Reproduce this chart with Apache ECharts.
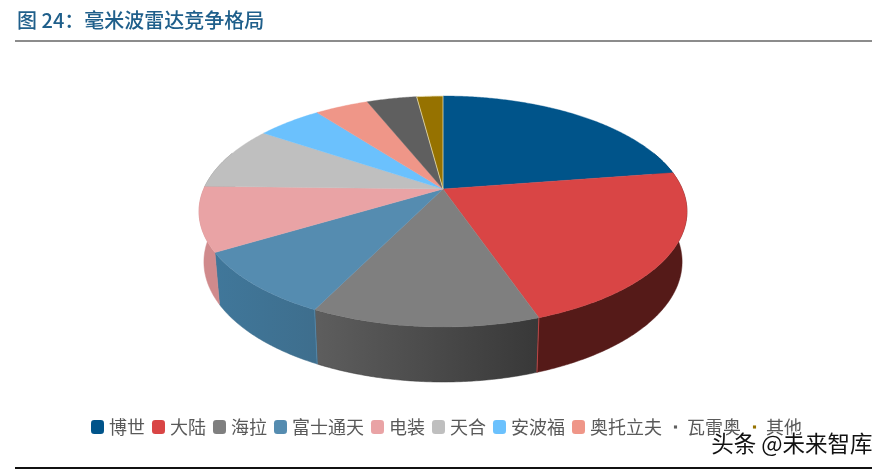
<!DOCTYPE html>
<html><head><meta charset="utf-8">
<style>html,body{margin:0;padding:0;background:#fff}#c{width:886px;height:472px}</style>
<script src="https://cdn.jsdelivr.net/npm/echarts@6/dist/echarts.min.js"></script>
</head><body><div id="c"></div>
<script>
const categories = ['博世','大陆','海拉','富士通天','电装','天合','安波福','奥托立夫','瓦雷奥','其他'];
const shares = [22.6,22.1,12.6,9.1,9.0,9.0,5.2,4.3,4.0,2.1];
const topColors = ['#00548a','#d94545','#7f7f7f','#558cb0','#e9a3a5','#bfbfbf','#6bc1fd','#ef9688','#5f5f5f','#967200'];
const sideStart = ['#003a60','#551a18','#5e5e5e','#40779a','#d08a8c','#8a8a8a','#4a88b2','#a86a60','#434343','#6a5000'];
const sideEnd   = ['#003a60','#551a18','#383838','#3e6e8d','#d08a8c','#8a8a8a','#4a88b2','#a86a60','#434343','#6a5000'];

const total = shares.reduce((s,v)=>s+v,0);
const cx=443, cy=189, k=-0.1948, B=111.1, A=239.3;
function rim(a){ const t=(a-90)*Math.PI/180, u=Math.sin(t), c=Math.cos(t), d=1+k*u;
  return [A*c/d, B*u/d]; }
function topPt(a){ const p=rim(a); return [cx+p[0], cy+p[1]]; }
function botPt(a){ const p=rim(a); return [cx+0.98*p[0], cy+1.04*p[1]+49.5]; }

function makeRender(i){
  return function(params, api){
    const before = shares.slice(0,i).reduce((s,v)=>s+v,0);
    const a0 = before/total*360, a1 = a0 + api.value(0)/total*360;
    const pts=[[cx,cy]];
    for(let a=a0;a<a1;a+=0.5) pts.push(topPt(a));
    pts.push(topPt(a1));
    const children=[];
    const s0=Math.max(a0,70), s1=Math.min(a1,290);
    if(s1>s0){
      const side=[];
      for(let a=s0;a<s1;a+=0.5) side.push(topPt(a));
      side.push(topPt(s1));
      const bot=[];
      for(let a=s0;a<s1;a+=0.5) bot.push(botPt(a));
      bot.push(botPt(s1));
      children.push({type:'polygon',z2:1,shape:{points:side.concat(bot.reverse())},
        style:{fill:{type:'linear',x:0,y:0,x2:1,y2:0,colorStops:[{offset:0,color:sideStart[i]},{offset:1,color:sideEnd[i]}]},
               stroke:sideEnd[i],lineWidth:0.5}});
      if(i===1||i===3){
        const e=i===1?a1:a0, p=topPt(e), q=botPt(e);
        children.push({type:'line',z2:3,shape:{x1:p[0],y1:p[1],x2:q[0],y2:q[1]},style:{stroke:topColors[i],lineWidth:0.8}});
      }
    }
    children.push({type:'polygon',z2:10,shape:{points:pts},
      style:{fill:topColors[i],stroke:i===9?'#e6dcae':topColors[i],lineWidth:i===9?0.8:0.4}});
    return {type:'group',children};
  };
}
const smallIcon='path://M0 0L0 0M100 100L100 100M38 38H62V62H38Z';
const chart=echarts.init(document.getElementById('c'),null,{renderer:'canvas'});
chart.setOption({
  animation:false,
  backgroundColor:'#fff',
  textStyle:{fontFamily:'"Noto Sans CJK SC"'},
  title:{text:'图 24：毫米波雷达竞争格局',left:12,top:5,
    textStyle:{fontSize:20,fontWeight:500,color:'#1f5f8b',fontFamily:'"Noto Sans CJK SC"'}},
  legend:{left:91,top:418,padding:0,itemWidth:13,itemHeight:14,itemGap:7,selectedMode:false,
    icon:'roundRect',
    textStyle:{fontSize:18,color:'#595959',fontFamily:'"Noto Sans CJK SC"'},
    data:categories.map((n,i)=>i>=8?{name:n,icon:smallIcon}:{name:n})},
  series:categories.map((n,i)=>({
    type:'custom',name:n,coordinateSystem:'none',
    itemStyle:{color:topColors[i]},
    renderItem:makeRender(i),
    data:[[shares[i]]],silent:true})),
  graphic:[
    {type:'line',shape:{x1:15,y1:41,x2:872,y2:41},style:{stroke:'#666',lineWidth:1.5}},
    {type:'line',shape:{x1:15,y1:468,x2:872,y2:468},style:{stroke:'#111',lineWidth:2}},
    {type:'text',left:710,top:431,z:100,style:{text:'头条 @未来智库',fontSize:22.5,fill:'#111',stroke:'#fff',lineWidth:2.5,fontFamily:'"Noto Sans CJK SC"'}}
  ]
});
</script></body></html>
